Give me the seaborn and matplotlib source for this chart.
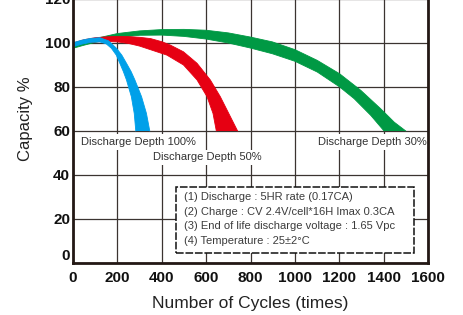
import matplotlib
matplotlib.use("Agg")
import matplotlib.pyplot as plt
import matplotlib.transforms as mtransforms
from matplotlib.patches import Rectangle
import seaborn as sns
import pandas as pd

# ---- data ----
blue_outer_x = [0, 40, 80, 121, 160, 196, 220, 241, 262, 279, 309, 331, 346]
blue_outer_y = [100.1, 101.3, 102.1, 102.4, 101, 97.6, 94.5, 90.8, 87, 83.2, 75.6, 68, 60]
blue_inner_x = [0, 40, 80, 121, 150, 173, 195, 211, 227, 241, 263, 276, 283]
blue_inner_y = [98.3, 99.5, 100.3, 100.5, 99.6, 97.6, 94.5, 90.8, 87, 83.2, 75.6, 68, 60]

red_outer_x = [0, 50, 100, 150, 200, 250, 300, 350, 400, 438, 498, 559, 619, 664, 702, 742]
red_outer_y = [100, 101.5, 102.4, 102.8, 103, 102.9, 102.6, 102, 100.6, 99.1, 96, 90.8, 83.2, 75.6, 68, 60]
red_inner_x = [0, 50, 100, 150, 200, 250, 300, 348, 423, 498, 559, 604, 631, 646]
red_inner_y = [99.3, 100.1, 100.5, 100.7, 100.5, 99.8, 98.6, 97, 94.5, 90, 83.2, 75.6, 68, 60]

green_outer_x = [0, 50, 100, 200, 300, 400, 500, 600, 700, 800, 899, 1000, 1101, 1202, 1297, 1387, 1448, 1500]
green_outer_y = [98.8, 100.5, 102, 104.3, 105.5, 106.1, 106.2, 105.8, 104.6, 102.7, 100.5, 97, 92.1, 86, 78.5, 70.1, 64, 60]
green_inner_x = [0, 50, 100, 200, 300, 400, 500, 600, 700, 800, 899, 1000, 1101, 1202, 1267, 1342, 1402]
green_inner_y = [97.6, 99, 100.3, 102.5, 103.5, 103.6, 103, 101.8, 100, 97.7, 95.1, 91.7, 86.8, 80, 74.7, 67.1, 60]

x_ticks = [0, 200, 400, 600, 800, 1000, 1200, 1400, 1600]
y_ticks = [0, 20, 40, 60, 80, 100, 120]

depth_labels = ["Discharge Depth 100%", "Discharge Depth 50%", "Discharge Depth 30%"]
condition_lines = [
    "(1) Discharge : 5HR rate (0.17CA)",
    "(2) Charge : CV 2.4V/cell*16H Imax 0.3CA",
    "(3) End of life discharge voltage : 1.65 Vpc",
    "(4) Temperature : 25±2°C",
]

BLUE = "#00a0e9"
RED = "#e60012"
GREEN = "#009944"
DARK = "#231815"
GRID = "#3b3431"

sns.set_theme(style="white")
plt.rcParams["font.family"] = ["Liberation Sans", "DejaVu Sans"]

fig = plt.figure(figsize=(4.63, 3.15), dpi=100)
ax = fig.add_axes([73 / 463, 52 / 315, 355 / 463, 264 / 315])

bands = [
    (green_outer_x, green_outer_y, green_inner_x, green_inner_y, GREEN),
    (red_outer_x, red_outer_y, red_inner_x, red_inner_y, RED),
    (blue_outer_x, blue_outer_y, blue_inner_x, blue_inner_y, BLUE),
]
for i, (ox, oy, ix, iy, col) in enumerate(bands):
    px = list(ox) + list(ix)[::-1]
    py = list(oy) + list(iy)[::-1]
    ax.fill(px, py, color=col, lw=0, zorder=3 + i)
    for xx, yy in ((ox, oy), (ix, iy)):
        d = pd.DataFrame({"x": xx, "y": yy})
        sns.lineplot(data=d, x="x", y="y", sort=False, color=col, lw=0.6,
                     ax=ax, zorder=3 + i, estimator=None)

ax.set_xlim(0, 1600)
ax.set_ylim(0, 120)
ax.set_xticks(x_ticks)
ax.set_yticks(y_ticks)
ax.set_xticklabels([str(t) for t in x_ticks], fontsize=11, fontweight="bold", color="#111111")
ax.set_yticklabels([str(t) for t in y_ticks], fontsize=11, fontweight="bold", color="#111111")
ax.tick_params(axis="x", length=0, pad=6)
ax.tick_params(axis="y", length=0, pad=2)
# the "0" label sits a little higher in the reference
lbl0 = ax.get_yticklabels()[0]
lbl0.set_transform(lbl0.get_transform() + mtransforms.ScaledTranslation(0, 6 / 72, fig.dpi_scale_trans))

ax.grid(True, color=GRID, lw=0.9, zorder=1)
ax.set_axisbelow(True)
for s in ["left", "bottom", "right"]:
    ax.spines[s].set_color(DARK)
    ax.spines[s].set_linewidth(2.0)
    ax.spines[s].set_zorder(10)
ax.spines["top"].set_visible(False)

ax.set_xlabel("Number of Cycles (times)", fontsize=12.5, color="#222222")
ax.set_ylabel("Capacity %", fontsize=12, color="#222222")
ax.xaxis.set_label_coords(0.5, -0.125)
ax.yaxis.set_label_coords(-0.112, 0.545)

bbox = dict(boxstyle="square,pad=0.25", fc="white", ec="none")
ax.text(35, 55.0, depth_labels[0], fontsize=8, color="#333333", va="center", ha="left", bbox=bbox, zorder=6)
ax.text(361, 48.0, depth_labels[1], fontsize=8, color="#333333", va="center", ha="left", bbox=bbox, zorder=6)
ax.text(1595, 55.0, depth_labels[2], fontsize=8, color="#333333", va="center", ha="right", bbox=bbox, zorder=6)

rect = Rectangle((466, 4.5), 1070, 30, fc="white", ec="#111111", lw=1.1,
                 ls=(0, (5, 1.2)), zorder=7)
ax.add_patch(rect)
for yy, line in zip([30.1, 23.3, 16.8, 10.0], condition_lines):
    ax.text(502, yy, line, fontsize=8, color="#3c3c3c", va="center", ha="left", zorder=8)

fig.savefig("out.png", dpi=100)
